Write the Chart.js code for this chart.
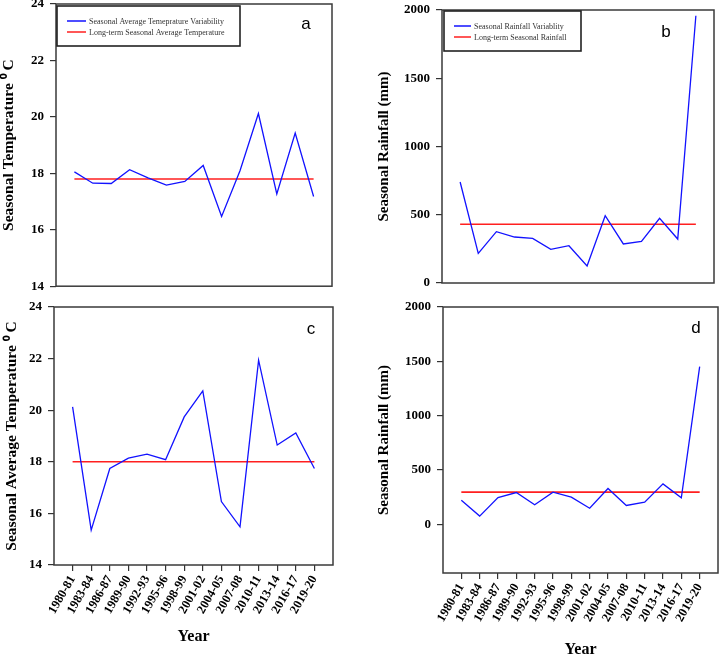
<!DOCTYPE html>
<html>
<head>
<meta charset="utf-8">
<script src="https://cdn.jsdelivr.net/npm/chart.js@4/dist/chart.umd.min.js"></script>
<style>
  html, body { margin: 0; padding: 0; background: #fff; }
  body { width: 720px; height: 656px; overflow: hidden; position: relative; }
  canvas { position: absolute; }
</style>
</head>
<body>
<canvas id="panelA" style="left:0px;top:-10px;width:360px;height:310px"></canvas>
<canvas id="panelB" style="left:360px;top:-10px;width:360px;height:310px"></canvas>
<canvas id="panelC" style="left:0px;top:290px;width:360px;height:366px"></canvas>
<canvas id="panelD" style="left:360px;top:290px;width:360px;height:380px"></canvas>
<script>
const years = ['1980-81', '1983-84', '1986-87', '1989-90', '1992-93', '1995-96', '1998-99',
               '2001-02', '2004-05', '2007-08', '2010-11', '2013-14', '2016-17', '2019-20'];

// a: seasonal temperature
const tempA = [18.05, 17.65, 17.64, 18.13, 17.84, 17.58, 17.71, 18.28, 16.47, 18.09, 20.12, 17.27, 19.43, 17.18];
const tempAMean = 17.8;
// b: seasonal rainfall
const rainB = [740, 217, 376, 337, 327, 247, 273, 125, 493, 286, 305, 474, 322, 1958];
const rainBMean = 430;
// c: seasonal average temperature
const tempC = [20.13, 15.35, 17.74, 18.14, 18.30, 18.08, 19.74, 20.75, 16.46, 15.48, 21.94, 18.65, 19.12, 17.74];
const tempCMean = 18.0;
// d: seasonal rainfall
const rainD = [221, 74, 245, 291, 178, 294, 248, 147, 328, 172, 202, 371, 242, 1451];
const rainDMean = 295;

const tempTicks = [14, 16, 18, 20, 22, 24];
const rainTicks = [0, 500, 1000, 1500, 2000];

const serif = '"Liberation Serif", "Times New Roman", serif';

// frame, legend box and panel letter
const panelDecor = {
    id: 'panelDecor',
    afterDraw(chart, args, opts) {
        const ctx = chart.ctx;
        const a = chart.chartArea;
        ctx.save();
        ctx.strokeStyle = '#3a3a3a';
        ctx.lineWidth = 1.5;
        ctx.strokeRect(a.left, a.top, a.right - a.left, a.bottom - a.top);

        if (opts.legend) {
            const L = opts.legend;
            const bx = a.left + L.dx, by = a.top + L.dy;
            ctx.fillStyle = '#fff';
            ctx.fillRect(bx, by, L.w, 40);
            ctx.strokeStyle = '#222';
            ctx.lineWidth = 1.6;
            ctx.strokeRect(bx, by, L.w, 40);
            ctx.font = '8px ' + serif;
            ctx.textBaseline = 'middle';
            chart.data.datasets.forEach((ds, i) => {
                const y = by + 15 + i * 11;
                ctx.strokeStyle = ds.borderColor;
                ctx.lineWidth = 1.5;
                ctx.beginPath();
                ctx.moveTo(bx + 10, y);
                ctx.lineTo(bx + 10 + L.len, y);
                ctx.stroke();
                ctx.fillStyle = '#333';
                ctx.fillText(ds.label, bx + 13 + L.len, y + 0.5);
            });
        }

        ctx.fillStyle = '#000';
        ctx.font = '17px "Liberation Sans", Arial, sans-serif';
        ctx.textAlign = 'center';
        ctx.textBaseline = 'alphabetic';
        ctx.fillText(opts.letter, a.right - opts.dx, a.top + opts.dy);
        ctx.restore();
    }
};

function makePanel(id, p) {
    const pts = p.values.map((v, i) => ({ x: i, y: v }));
    const meanPts = [{ x: 0, y: p.mean }, { x: years.length - 1, y: p.mean }];
    const showX = p.showYears;
    new Chart(document.getElementById(id), {
        type: 'line',
        data: {
            datasets: [
                { label: p.labels[0], data: pts, borderColor: '#1212ff', borderWidth: 1.3, pointRadius: 0, tension: 0 },
                { label: p.labels[1], data: meanPts, borderColor: '#ff1f1f', borderWidth: 1.6, pointRadius: 0, tension: 0 }
            ]
        },
        options: {
            responsive: false,
            animation: false,
            layout: { padding: { left: 0, top: p.top, right: p.right, bottom: 0 } },
            plugins: {
                legend: { display: false },
                tooltip: { enabled: false },
                panelDecor: { letter: p.letter, dx: p.letterDx, dy: p.letterDy, legend: p.legend }
            },
            scales: {
                x: {
                    type: 'linear',
                    min: -1,
                    max: years.length,
                    afterBuildTicks: (s) => { s.ticks = years.map((y, i) => ({ value: i })); },
                    afterFit: (s) => { s.height = p.xH; },
                    border: { display: false },
                    grid: { display: showX, drawOnChartArea: false, drawTicks: showX, tickLength: 6, color: '#333', lineWidth: 1.2 },
                    ticks: {
                        display: showX,
                        autoSkip: false,
                        minRotation: 60,
                        maxRotation: 60,
                        padding: 2,
                        color: '#000',
                        font: { family: serif, size: 12.5, weight: 'bold' },
                        callback: (v) => years[v]
                    },
                    title: {
                        display: showX,
                        text: 'Year',
                        color: '#000',
                        font: { family: serif, size: 16, weight: 'bold' },
                        padding: { top: 0, bottom: p.yearPad }
                    }
                },
                y: {
                    min: p.min,
                    max: p.max,
                    afterBuildTicks: (s) => { s.ticks = p.ticks.map(v => ({ value: v })); },
                    afterFit: (s) => { s.width = p.yW; },
                    border: { display: false },
                    grid: { drawOnChartArea: false, tickLength: 6, color: '#333', lineWidth: 1.2 },
                    ticks: {
                        padding: 6,
                        color: '#000',
                        font: { family: serif, size: 13, weight: 'bold' },
                        callback: (v) => String(v)
                    },
                    title: {
                        display: true,
                        text: p.yTitle,
                        color: '#000',
                        font: { family: serif, size: p.yTitleSize, weight: 'bold' },
                        padding: { top: p.yTitlePad, bottom: 0 }
                    }
                }
            }
        },
        plugins: [panelDecor]
    });
}

makePanel('panelA', {
    values: tempA, mean: tempAMean, min: 14, max: 24, ticks: tempTicks,
    labels: ['Seasonal Average Temeprature Variability', 'Long-term Seasonal Average Temperature'],
    yTitle: 'Seasonal Temperature \u2070 C', yTitleSize: 15.5, yTitlePad: 0,
    showYears: false, top: 14, right: 28, yW: 56, xH: 11, yearPad: 0,
    letter: 'a', letterDx: 26, letterDy: 25,
    legend: { dx: 1, dy: 2, w: 183, len: 19 }
});

makePanel('panelB', {
    values: rainB, mean: rainBMean, min: 0, max: 2000, ticks: rainTicks,
    labels: ['Seasonal Rainfall Variablity', 'Long-term Seasonal Rainfall'],
    yTitle: 'Seasonal Rainfall (mm)', yTitleSize: 15, yTitlePad: 15,
    showYears: false, top: 20, right: 6, yW: 82, xH: 17, yearPad: 0,
    letter: 'b', letterDx: 48, letterDy: 27,
    legend: { dx: 2, dy: 1, w: 137, len: 17 }
});

makePanel('panelC', {
    values: tempC, mean: tempCMean, min: 14, max: 24, ticks: tempTicks,
    labels: ['Seasonal Average Temeprature Variability', 'Long-term Seasonal Average Temperature'],
    yTitle: 'Seasonal Average Temperature \u2070 C', yTitleSize: 15.5, yTitlePad: 3,
    showYears: true, top: 17, right: 27, yW: 54, xH: 91, yearPad: 10,
    letter: 'c', letterDx: 22, letterDy: 27,
    legend: null
});

makePanel('panelD', {
    values: rainD, mean: rainDMean, min: -450, max: 2000, ticks: rainTicks,
    labels: ['Seasonal Rainfall Variablity', 'Long-term Seasonal Rainfall'],
    yTitle: 'Seasonal Rainfall (mm)', yTitleSize: 15, yTitlePad: 15,
    showYears: true, top: 17, right: 2, yW: 83, xH: 97, yearPad: 11,
    letter: 'd', letterDx: 22, letterDy: 26,
    legend: null
});
</script>
</body>
</html>
